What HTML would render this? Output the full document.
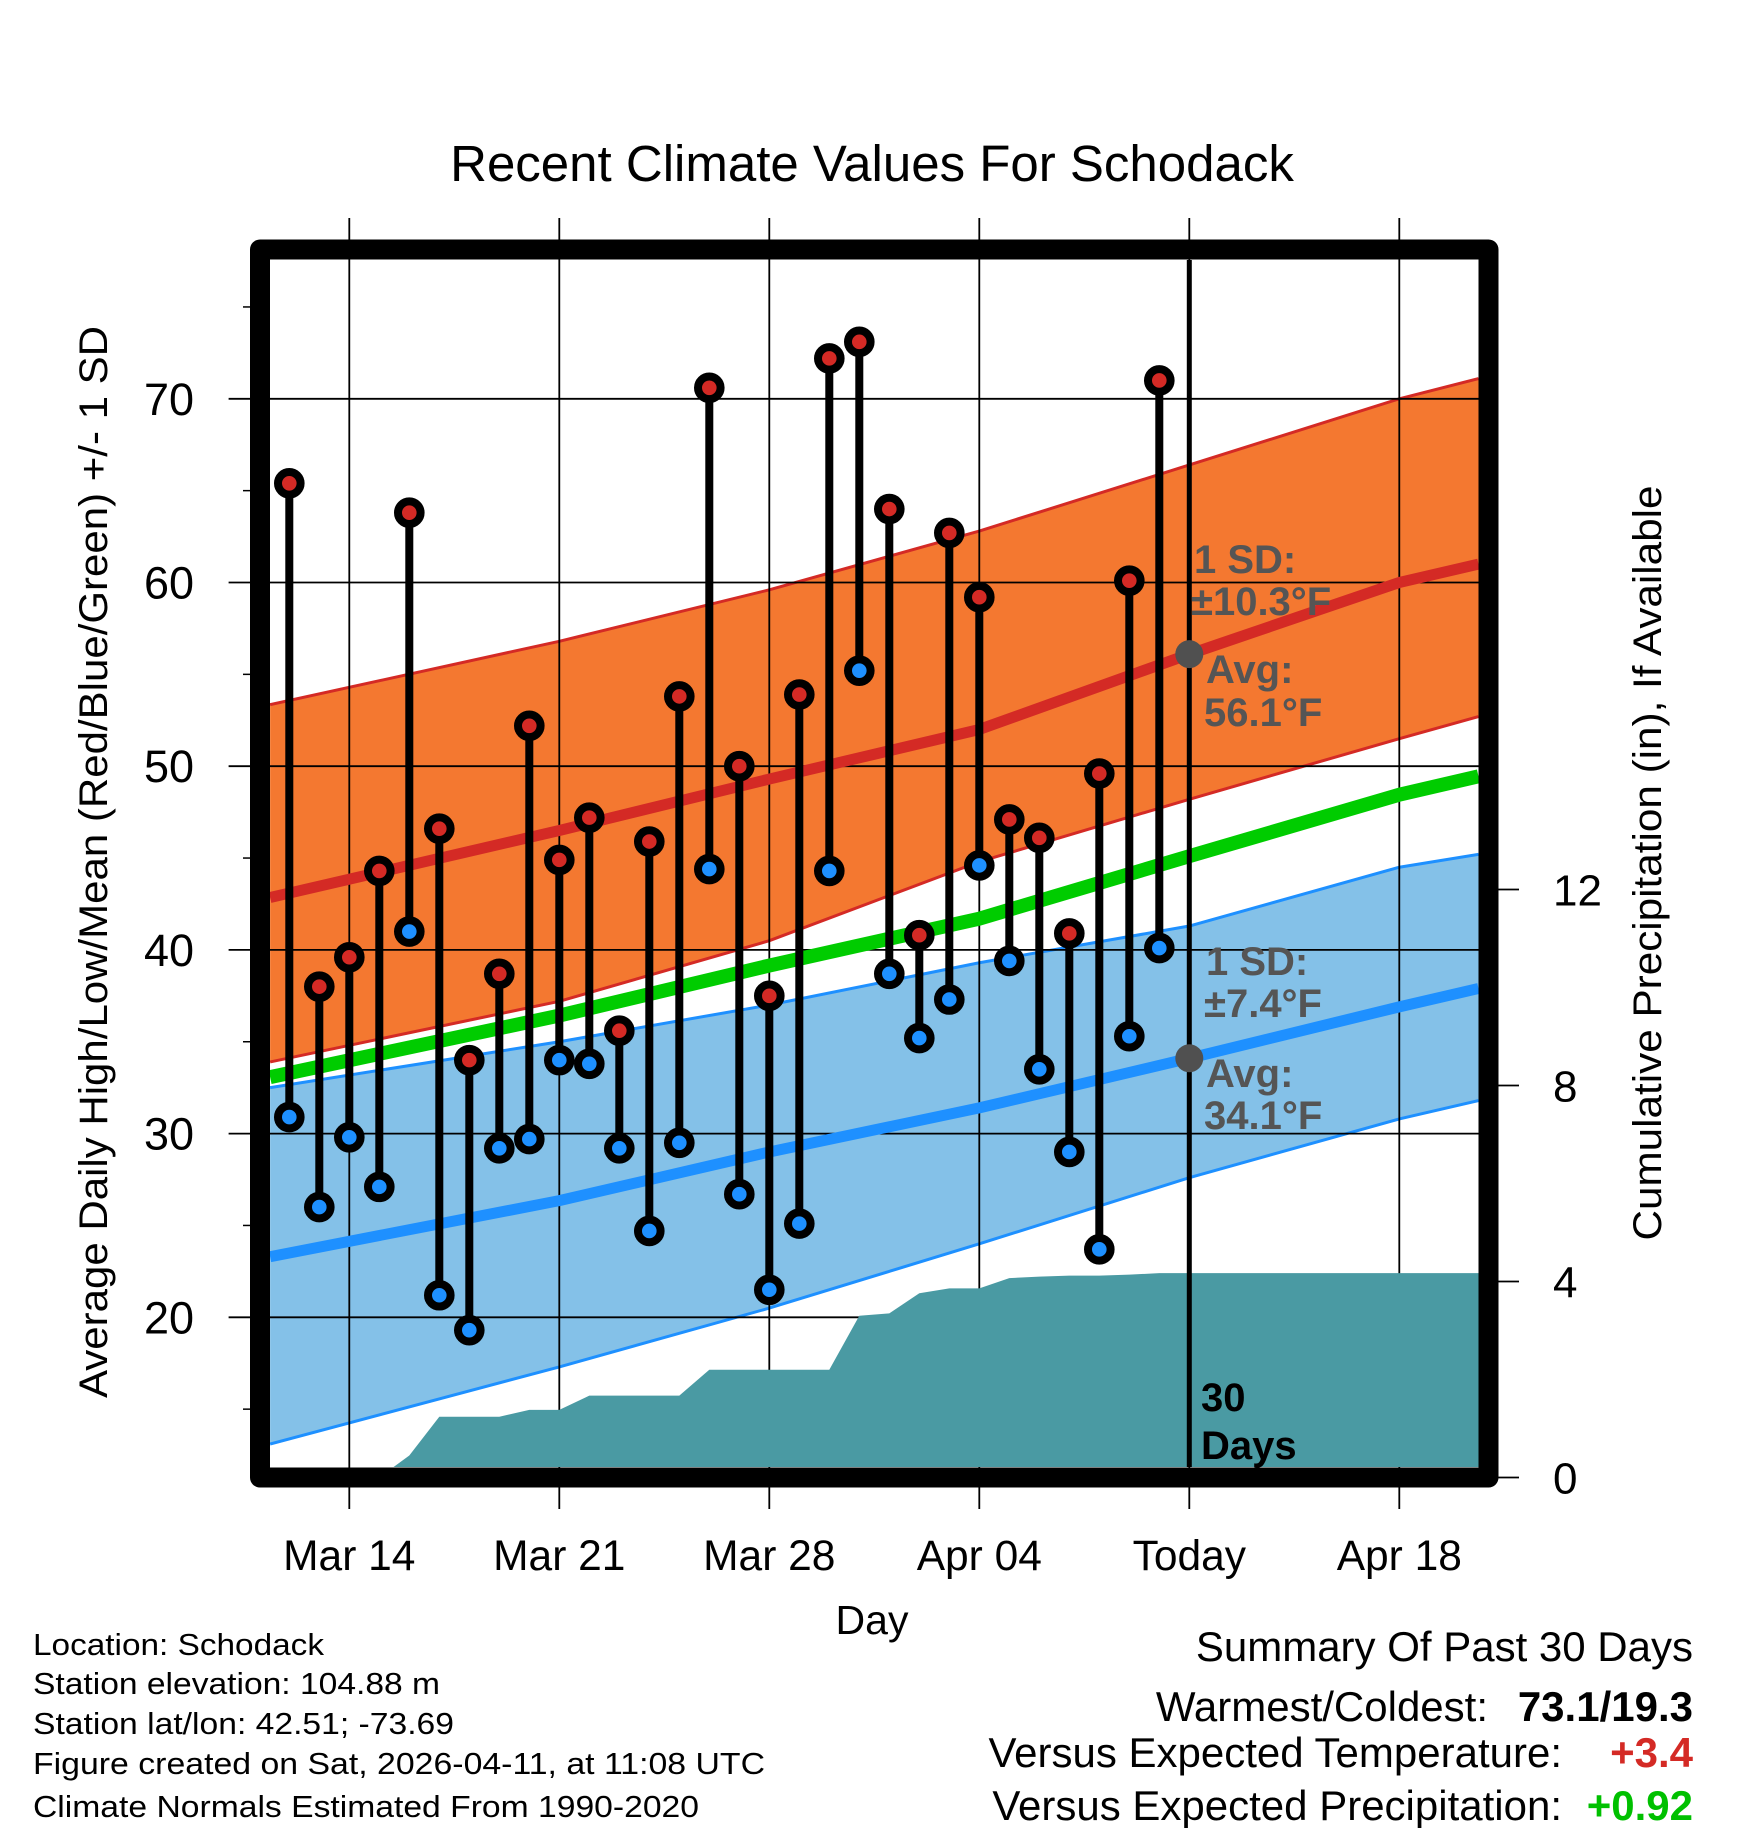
<!DOCTYPE html>
<html><head><meta charset="utf-8"><style>
html,body{margin:0;padding:0;background:#fff;}
svg{display:block;font-family:"Liberation Sans",Arial,sans-serif;}
</style></head><body>
<svg id="chart" width="1748" height="1828" viewBox="0 0 1748 1828" xmlns="http://www.w3.org/2000/svg">
<defs><clipPath id="plotclip"><rect x="270" y="260" width="1208.5" height="1207"/></clipPath></defs>
<g id="bands" clip-path="url(#plotclip)"></g>
<g id="grid"></g>
<g id="precip" clip-path="url(#plotclip)"></g>
<g id="means" clip-path="url(#plotclip)"></g>
<g id="stems"></g>
<g id="annot"></g>
<g id="frame"></g>
<g id="axes"></g>
<text x="872" y="181" font-size="51" text-anchor="middle">Recent Climate Values For Schodack</text>
<text x="872" y="1634" font-size="41" text-anchor="middle">Day</text>
<text transform="translate(107,862) rotate(-90)" font-size="40" text-anchor="middle" textLength="1072" lengthAdjust="spacingAndGlyphs">Average Daily High/Low/Mean (Red/Blue/Green) +/- 1 SD</text>
<text transform="translate(1661,863) rotate(-90)" font-size="40" text-anchor="middle" textLength="755" lengthAdjust="spacingAndGlyphs">Cumulative Precipitation (in), If Available</text>
<g font-size="31">
<text x="33" y="1655" textLength="291" lengthAdjust="spacingAndGlyphs">Location: Schodack</text>
<text x="33" y="1694" textLength="407" lengthAdjust="spacingAndGlyphs">Station elevation: 104.88 m</text>
<text x="33" y="1734" textLength="421" lengthAdjust="spacingAndGlyphs">Station lat/lon: 42.51; -73.69</text>
<text x="33" y="1774" textLength="732" lengthAdjust="spacingAndGlyphs">Figure created on Sat, 2026-04-11, at 11:08 UTC</text>
<text x="33" y="1817" textLength="666" lengthAdjust="spacingAndGlyphs">Climate Normals Estimated From 1990-2020</text>
</g>
<g font-size="42">
<text x="1693" y="1661" text-anchor="end">Summary Of Past 30 Days</text>
<text x="1488" y="1721" text-anchor="end">Warmest/Coldest:</text>
<text x="1693" y="1721" text-anchor="end" font-weight="bold">73.1/19.3</text>
<text x="1562" y="1767" text-anchor="end">Versus Expected Temperature:</text>
<text x="1693" y="1767" text-anchor="end" font-weight="bold" fill="#D42A25">+3.4</text>
<text x="1562" y="1820" text-anchor="end">Versus Expected Precipitation:</text>
<text x="1693" y="1820" text-anchor="end" font-weight="bold" fill="#00C000">+0.92</text>
</g>
</svg>
<script>
// ---- data ----
const dayLabels = ["Mar 12","Mar 13","Mar 14","Mar 15","Mar 16","Mar 17","Mar 18","Mar 19","Mar 20","Mar 21","Mar 22","Mar 23","Mar 24","Mar 25","Mar 26","Mar 27","Mar 28","Mar 29","Mar 30","Mar 31","Apr 01","Apr 02","Apr 03","Apr 04","Apr 05","Apr 06","Apr 07","Apr 08","Apr 09","Apr 10"];
const dayIndex = [-2,-1,0,1,2,3,4,5,6,7,8,9,10,11,12,13,14,15,16,17,18,19,20,21,22,23,24,25,26,27];
const highs = [65.4,38.0,39.6,44.3,63.8,46.6,34.0,38.7,52.2,44.9,47.2,35.6,45.9,53.8,70.6,50.0,37.5,53.9,72.2,73.1,64.0,40.8,62.7,59.2,47.1,46.1,40.9,49.6,60.1,71.0];
const lows = [30.9,26.0,29.8,27.1,41.0,21.2,19.3,29.2,29.7,34.0,33.8,29.2,24.7,29.5,44.4,26.7,21.5,25.1,44.3,55.2,38.7,35.2,37.3,44.6,39.4,33.5,29.0,23.7,35.3,40.1];
const precip = [0,0,0,0,0.45,1.24,1.24,1.24,1.38,1.38,1.67,1.67,1.67,1.67,2.2,2.2,2.2,2.2,2.2,3.3,3.35,3.76,3.86,3.86,4.07,4.1,4.12,4.12,4.14,4.17];
const normalDays = [-2.64,7,14,21,28,35,37.64];
const hiUpper = [53.35,56.8,59.6,62.8,66.4,70.0,71.1];
const hiMean = [42.85,46.5,49.3,52.0,56.1,60.0,61.0];
const hiLower = [33.9,37.2,40.5,44.8,48.2,51.5,52.7];
const loUpper = [32.5,35.0,37.0,39.3,41.3,44.5,45.2];
const loMean = [23.3,26.35,29.0,31.4,34.1,36.9,37.9];
const loLower = [13.1,17.3,20.5,24.0,27.6,30.8,31.8];
const xTickDays = [0,7,14,21,28,35];
const xTickLabels = ["Mar 14","Mar 21","Mar 28","Apr 04","Today","Apr 18"];
const yTicks = [20,30,40,50,60,70];
const yMinorTicks = [15,25,35,45,55,65,75];
const pTicks = [0,4,8,12];
const todayDay = 28;
const todayHiAvg = 56.1, todayLoAvg = 34.1;

// ---- axes ----
const X = d => 349.3 + 30*d;
const Y = t => 1317.3 - 18.37*(t-20);
const P = p => 1477.5 - 49*p;
const NS = "http://www.w3.org/2000/svg";
function mk(tag, attrs, parent){const e=document.createElementNS(NS,tag);for(const k in attrs)e.setAttribute(k,attrs[k]);parent.appendChild(e);return e;}
const g = id => document.getElementById(id);

function band(up, lo, fill, name){
  let pts = normalDays.map((d,i)=>X(d)+","+Y(up[i]));
  pts = pts.concat(normalDays.slice().reverse().map((d,j)=>{const i=normalDays.length-1-j;return X(d)+","+Y(lo[i]);}));
  const e = mk("polygon",{points:pts.join(" "),fill:fill},g("bands"));
  
  
}
function line(arr, color, w, parentId, name){
  const e = mk("polyline",{points:normalDays.map((d,i)=>X(d)+","+Y(arr[i])).join(" "),fill:"none",stroke:color,"stroke-width":w,"stroke-linejoin":"round"},g(parentId));
  
  
}
band(hiUpper, hiLower, "#F47830", "high-sd-band");
band(loUpper, loLower, "#84C1E8", "low-sd-band");
line(hiUpper,"#D42A25",3,"bands","high-upper-edge");
line(hiLower,"#D42A25",3,"bands","high-lower-edge");
line(loUpper,"#1E90FF",3,"bands","low-upper-edge");
line(loLower,"#1E90FF",3,"bands","low-lower-edge");

xTickDays.forEach((d,i)=>{
  const l = mk("line",{x1:X(d),x2:X(d),y1:218,y2:1509,stroke:"#000","stroke-width":1.8},g("grid"));
  
  
  const t = mk("text",{x:X(d),y:1570,"font-size":42.5,"text-anchor":"middle"},g("axes"));
  t.textContent = xTickLabels[i];
  
  
});
yTicks.forEach(v=>{
  const l = mk("line",{x1:228.6,x2:1478.5,y1:Y(v),y2:Y(v),stroke:"#000","stroke-width":1.8},g("grid"));
  
  
  const t = mk("text",{x:194,y:Y(v)+16,"font-size":45,"text-anchor":"end"},g("axes"));
  t.textContent = v;
  
  
});
yMinorTicks.forEach(v=>{
  const l = mk("line",{x1:243,x2:252,y1:Y(v),y2:Y(v),stroke:"#000","stroke-width":1.5},g("axes"));
  
  
});
pTicks.forEach(v=>{
  const l = mk("line",{x1:1496,x2:1519,y1:P(v),y2:P(v),stroke:"#000","stroke-width":1.8},g("axes"));
  
  
  const t = mk("text",{x:1553,y:P(v)+16,"font-size":44},g("axes"));
  t.textContent = v;
  
  
});

{
  let pts = [X(dayIndex[0])+","+P(0)];
  dayIndex.forEach((d,i)=>pts.push(X(d)+","+P(precip[i])));
  pts.push(X(normalDays[normalDays.length-1])+","+P(precip[precip.length-1]));
  pts.push(X(normalDays[normalDays.length-1])+","+P(0));
  const e = mk("polygon",{points:pts.join(" "),fill:"#4A9AA3"},g("precip"));
  
  
}

{
  const mid = hiMean.map((v,i)=>(v+loMean[i])/2);
  line(mid,"#00CC00",14,"means","overall-mean-line");
  line(hiMean,"#D42A25",11,"means","high-mean-line");
  line(loMean,"#1E90FF",11,"means","low-mean-line");
}

{
  const e = mk("line",{x1:X(todayDay),x2:X(todayDay),y1:255,y2:1470,stroke:"#000","stroke-width":5},g("means"));
  
  
}

dayIndex.forEach((d,i)=>{
  const s = mk("line",{x1:X(d),x2:X(d),y1:Y(highs[i]),y2:Y(lows[i]),stroke:"#000","stroke-width":8},g("stems"));
  
  
  const h = mk("circle",{cx:X(d),cy:Y(highs[i]),r:11.3,fill:"#D42A25",stroke:"#000","stroke-width":8},g("stems"));
  
  
  const l = mk("circle",{cx:X(d),cy:Y(lows[i]),r:11.3,fill:"#1E90FF",stroke:"#000","stroke-width":8},g("stems"));
  
  
});

{
  const a = g("annot");
  const d1 = mk("circle",{cx:X(todayDay),cy:Y(todayHiAvg),r:14,fill:"#505050"},a);
  
  
  const d2 = mk("circle",{cx:X(todayDay),cy:Y(todayLoAvg),r:14,fill:"#505050"},a);
  
  
  const items = [
    [1194,573,"1 SD:","high-sd-label","#555"],
    [1191,615,"\u00B110.3\u00B0F","high-sd-value","#555"],
    [1206,683,"Avg:","high-avg-label","#555"],
    [1204,726,"56.1\u00B0F","high-avg-value","#555"],
    [1206,975,"1 SD:","low-sd-label","#555"],
    [1204,1017,"\u00B17.4\u00B0F","low-sd-value","#555"],
    [1206,1087,"Avg:","low-avg-label","#555"],
    [1204,1129,"34.1\u00B0F","low-avg-value","#555"],
    [1201,1411,"30","days-count-label","#000"],
    [1201,1459,"Days","days-label","#000"]
  ];
  items.forEach(it=>{
    const t = mk("text",{x:it[0],y:it[1],"font-size":40,"font-weight":"bold",fill:it[4]},a);
    t.textContent = it[2];
    
    
  });
}

{
  const f = mk("rect",{x:260,y:249.5,width:1228.5,height:1228,fill:"none",stroke:"#000","stroke-width":20,"stroke-linejoin":"round"},g("frame"));
  
  
}
</script>
</body></html>
